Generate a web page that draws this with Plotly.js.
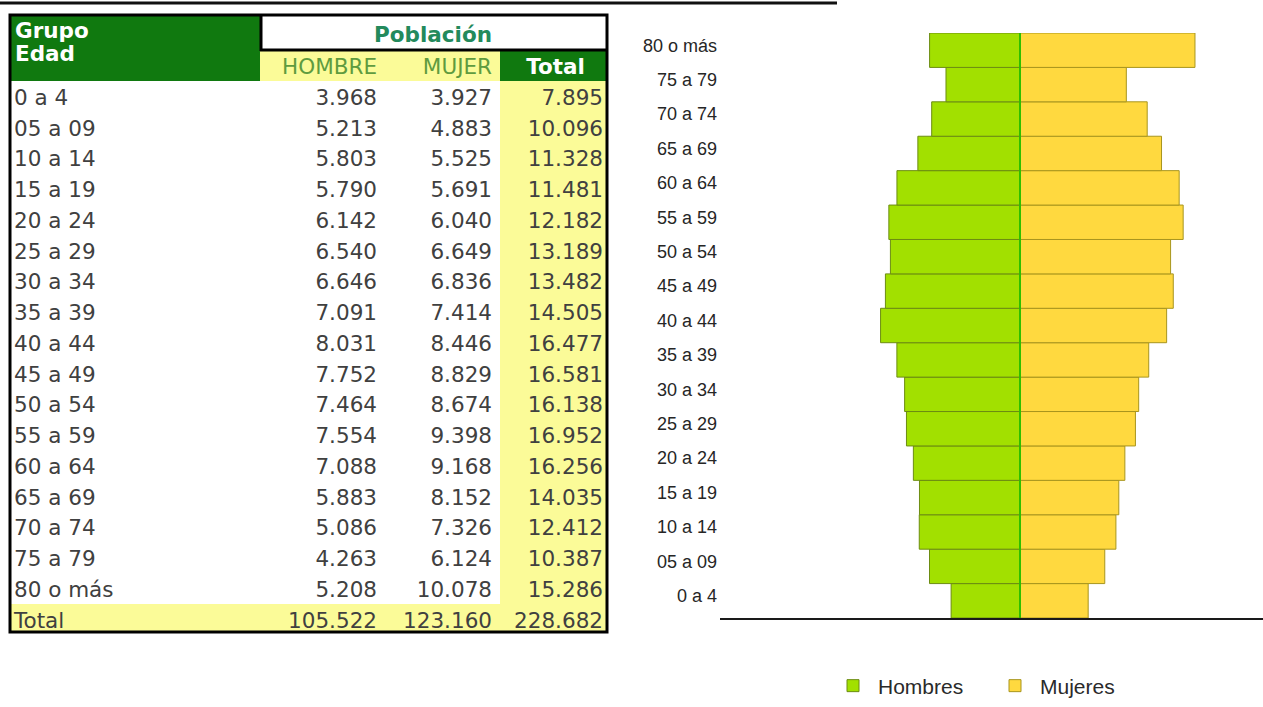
<!DOCTYPE html>
<html><head><meta charset="utf-8">
<script src="https://cdn.plot.ly/plotly-3.0.1.min.js"></script>
<style>html,body{margin:0;padding:0;background:#fff;}#chart{width:1263px;height:707px;}</style>
</head><body><div id="chart"></div>
<script>
// ---- data ----
const ageGroups = ['0 a 4','05 a 09','10 a 14','15 a 19','20 a 24','25 a 29','30 a 34','35 a 39','40 a 44','45 a 49','50 a 54','55 a 59','60 a 64','65 a 69','70 a 74','75 a 79','80 o más'];
const hombres = [3968,5213,5803,5790,6142,6540,6646,7091,8031,7752,7464,7554,7088,5883,5086,4263,5208];
const mujeres = [3927,4883,5525,5691,6040,6649,6836,7414,8446,8829,8674,9398,9168,8152,7326,6124,10078];
const totales = [7895,10096,11328,11481,12182,13189,13482,14505,16477,16581,16138,16952,16256,14035,12412,10387,15286];
const totalLabel = 'Total';
const totalHombres = 105522;
const totalMujeres = 123160;
const totalGeneral = 228682;
const headerGroup = ['Grupo','Edad'];
const headerPoblacion = 'Población';
const headerCols = ['HOMBRE','MUJER','Total'];
const legendNames = ['Hombres','Mujeres'];

// ---- helpers ----
const W = 1263, H = 707;
const px = x => x / W;
const py = y => 1 - y / H;
const darkGreen = '#10790f';
const lightYellow = '#fbfb98';
const headGreen = '#5f9b3f';
const bodyText = '#404040';
const FS = 21.5;
const n = ageGroups.length;
const fmt = v => String(v).replace(/\B(?=(\d{3})+(?!\d))/g, '.');

// first cells row = HOMBRE / MUJER / Total header row
const col0 = [''].concat(ageGroups, [totalLabel]);
const col1 = [headerCols[0]].concat(hombres.map(fmt), [fmt(totalHombres)]);
const col2 = [headerCols[1]].concat(mujeres.map(fmt), [fmt(totalMujeres)]);
const col3 = [headerCols[2]].concat(totales.map(fmt), [fmt(totalGeneral)]);
const nRows = col0.length;
const isTot = i => i === nRows - 1;
const fill0 = col0.map((_, i) => i === 0 ? darkGreen : (isTot(i) ? lightYellow : '#ffffff'));
const fill12 = col0.map((_, i) => i === 0 || isTot(i) ? lightYellow : '#ffffff');
const fill3 = col0.map((_, i) => i === 0 ? darkGreen : lightYellow);
const font12 = col0.map((_, i) => i === 0 ? headGreen : bodyText);
const font3 = col0.map((_, i) => i === 0 ? '#ffffff' : bodyText);
const weight3 = col0.map((_, i) => i === 0 ? 700 : 400);
const align3 = col0.map((_, i) => i === 0 ? 'center' : 'right');

const tableTrace = {
  type: 'table',
  domain: {x: [px(6), px(611)], y: [py(640), py(11)]},
  columnwidth: [254, 125, 115, 111],
  header: {
    values: ['', '', '', ''],
    height: 39,
    fill: {color: [darkGreen, '#ffffff', '#ffffff', '#ffffff']},
    line: {width: 0, color: 'rgba(0,0,0,0)'},
    font: {family: 'DejaVu Sans', size: 12, color: '#ffffff'}
  },
  cells: {
    values: [col0, col1, col2, col3],
    align: [['left'], ['right'], ['right'], align3],
    height: 30.75,
    fill: {color: [fill0, fill12, fill12, fill3]},
    line: {width: 0, color: 'rgba(0,0,0,0)'},
    font: {family: 'DejaVu Sans', size: FS, color: [[bodyText], font12, font12, font3], weight: [[400], [400], [400], weight3]}
  },
  hoverinfo: 'skip'
};

const menTrace = {
  type: 'bar', orientation: 'h', name: legendNames[0],
  y: ageGroups, x: hombres.map(v => -v),
  marker: {color: '#a2e000', line: {color: '#6c8c12', width: 1}},
  hoverinfo: 'skip'
};
const womenTrace = {
  type: 'bar', orientation: 'h', name: legendNames[1],
  y: ageGroups, x: mujeres,
  marker: {color: '#ffd93f', line: {color: '#a8951e', width: 1}},
  hoverinfo: 'skip'
};

const unitsPerPx = 57.6;
const layout = {
  width: W, height: H,
  margin: {l: 0, r: 0, t: 0, b: 0},
  paper_bgcolor: '#ffffff', plot_bgcolor: 'rgba(0,0,0,0)',
  barmode: 'overlay', bargap: 0,
  showlegend: true,
  legend: {
    orientation: 'h', traceorder: 'normal',
    x: px(828), y: py(686), xanchor: 'left', yanchor: 'middle',
    itemwidth: 40, entrywidth: 107,
    font: {family: 'Liberation Sans', size: 21, color: '#2a2a2a'},
    bgcolor: 'rgba(0,0,0,0)'
  },
  xaxis: {
    domain: [px(720), 1],
    range: [(720 - 1020) * unitsPerPx, (W - 1020) * unitsPerPx],
    showline: true, linecolor: '#1a1a1a', linewidth: 2,
    showticklabels: false, ticks: '', showgrid: false, zeroline: false, fixedrange: true
  },
  yaxis: {
    type: 'category', categoryorder: 'array', categoryarray: ageGroups,
    domain: [py(618), py(33)],
    range: [-0.5, n - 0.5],
    showline: false, ticks: '', showgrid: false, zeroline: false,
    ticklabelshift: -5, ticklabelstandoff: 2,
    tickfont: {family: 'Liberation Sans', size: 18, color: '#262626'},
    fixedrange: true
  },
  shapes: [
    // cut-off underline at top
    {type: 'line', xref: 'paper', yref: 'paper', x0: 0, x1: px(837), y0: py(3), y1: py(3), line: {color: '#111', width: 3}, layer: 'above'},
    // white covers for table overflow
    {type: 'rect', xref: 'paper', yref: 'paper', x0: 0, x1: px(10), y0: py(650), y1: py(6), fillcolor: '#fff', line: {width: 0}, layer: 'above'},
    {type: 'rect', xref: 'paper', yref: 'paper', x0: px(608), x1: px(625), y0: py(650), y1: py(6), fillcolor: '#fff', line: {width: 0}, layer: 'above'},
    {type: 'rect', xref: 'paper', yref: 'paper', x0: 0, x1: px(625), y0: py(15), y1: py(6), fillcolor: '#fff', line: {width: 0}, layer: 'above'},
    {type: 'rect', xref: 'paper', yref: 'paper', x0: 0, x1: px(625), y0: py(650), y1: py(633), fillcolor: '#fff', line: {width: 0}, layer: 'above'},
    // Grupo Edad cell
    {type: 'rect', xref: 'paper', yref: 'paper', x0: px(10), x1: px(260), y0: py(81), y1: py(15), fillcolor: darkGreen, line: {width: 0}, layer: 'above'},
    // Población cell borders
    {type: 'line', xref: 'paper', yref: 'paper', x0: px(261), x1: px(261), y0: py(15), y1: py(51), line: {color: '#000', width: 3}, layer: 'above'},
    {type: 'line', xref: 'paper', yref: 'paper', x0: px(260), x1: px(607), y0: py(50), y1: py(50), line: {color: '#000', width: 3}, layer: 'above'},
    // outer border
    {type: 'rect', xref: 'paper', yref: 'paper', x0: px(10), x1: px(607), y0: py(632), y1: py(15), line: {color: '#000', width: 3}, layer: 'above'},
    // centre line of pyramid
    {type: 'line', xref: 'x', yref: 'y', x0: 0, x1: 0, y0: -0.5, y1: n - 0.5, line: {color: '#2fbf00', width: 2}, layer: 'above'}
  ],
  annotations: headerGroup.map((t, i) => ({
    xref: 'paper', yref: 'paper', x: px(13), y: py(30 + 23 * i), xanchor: 'left', yanchor: 'middle', showarrow: false,
    text: '<b>' + t + '</b>', font: {family: 'DejaVu Sans', size: FS, color: '#ffffff'}
  })).concat([
    {xref: 'paper', yref: 'paper', x: px(433), y: py(34), xanchor: 'center', yanchor: 'middle', showarrow: false,
     text: '<b>' + headerPoblacion + '</b>', font: {family: 'DejaVu Sans', size: FS, color: '#238a5c'}}
  ])
};

Plotly.newPlot('chart', [tableTrace, menTrace, womenTrace], layout, {displayModeBar: false, staticPlot: true});
</script>
</body></html>
